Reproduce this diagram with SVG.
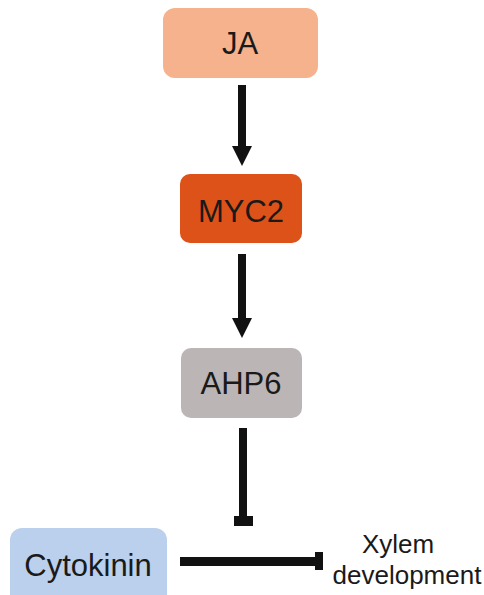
<svg xmlns="http://www.w3.org/2000/svg" width="484" height="595" viewBox="0 0 484 595">
<style>
.lbl{font-family:"Liberation Sans",Arial,sans-serif;font-size:31px;fill:#1a1a1a;text-anchor:middle}
.sm{font-family:"Liberation Sans",Arial,sans-serif;font-size:26px;fill:#1a1a1a;text-anchor:middle}
.ln{stroke:#111;stroke-width:8;fill:none}
</style>
<defs>
<marker id="ah" markerUnits="userSpaceOnUse" markerWidth="22" markerHeight="22" refX="1" refY="10" orient="auto" viewBox="0 0 22 20">
<path d="M0,0 L20,10 L0,20 Z" fill="#111"/>
</marker>
</defs>
<rect width="484" height="595" fill="#fff"/>
<g id="JA"><rect x="163" y="8" width="155" height="70" rx="12" fill="#F5B28C"/><text class="lbl" x="240" y="54">JA</text></g>
<g id="MYC2"><rect x="180" y="174" width="122" height="69" rx="10" fill="#DC5219"/><text class="lbl" x="241" y="222">MYC2</text></g>
<g id="AHP6"><rect x="181" y="348" width="121" height="70" rx="10" fill="#BBB6B5"/><text class="lbl" x="241" y="394">AHP6</text></g>
<g id="Cytokinin"><rect x="10" y="528" width="157" height="80" rx="12" fill="#BBD0EC"/><text class="lbl" x="88" y="576">Cytokinin</text></g>
<g id="Xylem"><text class="sm" x="398" y="553">Xylem</text><text class="sm" x="407" y="584">development</text></g>
<g id="connectors">
<line class="ln" x1="242" y1="85" x2="242" y2="147" marker-end="url(#ah)"/>
<line class="ln" x1="242" y1="254" x2="242" y2="319" marker-end="url(#ah)"/>
<line class="ln" x1="243" y1="428" x2="243" y2="520"/>
<rect x="234" y="516" width="19" height="10" fill="#111"/>
<line x1="180" y1="561.5" x2="318" y2="561.5" stroke="#111" stroke-width="9"/>
<rect x="315" y="552" width="8" height="18" fill="#111"/>
</g>
</svg>
